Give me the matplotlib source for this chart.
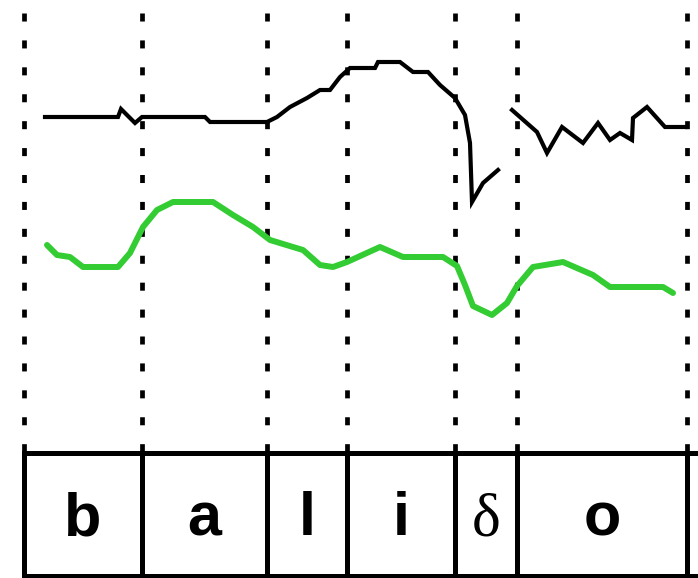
import numpy as np
import matplotlib.pyplot as plt

# segment boundaries (time axis, in ms-like units along the utterance)
bounds = [24, 142, 267, 347, 455, 517, 687]
phones = ['b', 'a', 'l', 'i', 'δ', 'o']

# upper trace (black), two voiced stretches
f0_a_x = [45, 118, 121, 135, 142, 205, 210, 267, 277, 290, 307, 320, 330, 340, 350,
          375, 378, 400, 413, 428, 440, 455, 465, 470, 472, 483, 498]
f0_a_y = [117, 117, 109, 123, 117, 117, 122, 122, 117, 107, 98, 90, 90, 77, 68,
          68, 62, 62, 72, 72, 85, 98, 115, 143, 202, 183, 170]
f0_b_x = [512, 537, 547, 562, 583, 598, 610, 620, 632, 633, 647, 665, 685]
f0_b_y = [110, 132, 153, 127, 143, 123, 140, 133, 140, 118, 107, 127, 127]

# lower trace (green)
amp_x = [47, 57, 70, 83, 118, 130, 143, 157, 173, 213, 233, 253, 270, 293, 303, 320,
         333, 347, 380, 403, 443, 457, 465, 473, 492, 507, 517, 533, 563, 593, 610,
         663, 673]
amp_y = [245, 255, 257, 267, 267, 253, 227, 210, 202, 202, 215, 227, 240, 247, 250, 265,
         267, 262, 247, 257, 257, 266, 285, 306, 315, 303, 286, 267, 262, 275, 287,
         287, 293]

fig = plt.figure(figsize=(6.98, 5.78), dpi=100)
ax = fig.add_axes([0, 0, 1, 1])
ax.set_xlim(0, 698)
ax.set_ylim(578, 0)
ax.axis('off')

box_top, box_bot = 453, 576

# dotted boundary markers
for b in bounds:
    ax.plot([b, b], [13, box_top], color='black', lw=3.4,
            linestyle=(0, (1.7, 4.0)), solid_capstyle='butt')

ax.plot(f0_a_x, f0_a_y, color='black', lw=3.0, solid_joinstyle='miter')
ax.plot(f0_b_x, f0_b_y, color='black', lw=3.0, solid_joinstyle='miter')
ax.plot(amp_x, amp_y, color='#33cc33', lw=4.3, solid_capstyle='round')

# segment label box
ax.plot([bounds[0], 698], [box_top, box_top], color='black', lw=3.6)
ax.plot([bounds[0], 698], [box_bot, box_bot], color='black', lw=3.6)
for b in bounds:
    ax.plot([b, b], [box_top, box_bot], color='black', lw=3.6)

for lab, x0, x1 in zip(phones, bounds[:-1], bounds[1:]):
    if lab == 'δ':
        ax.text((x0 + x1) / 2, 535, lab, ha='center', va='baseline',
                fontsize=44, family='Liberation Serif')
    else:
        ax.text((x0 + x1) / 2, 535, lab, ha='center', va='baseline',
                fontsize=44, family='Liberation Sans', weight='bold')

fig.savefig('out.png', dpi=100)
